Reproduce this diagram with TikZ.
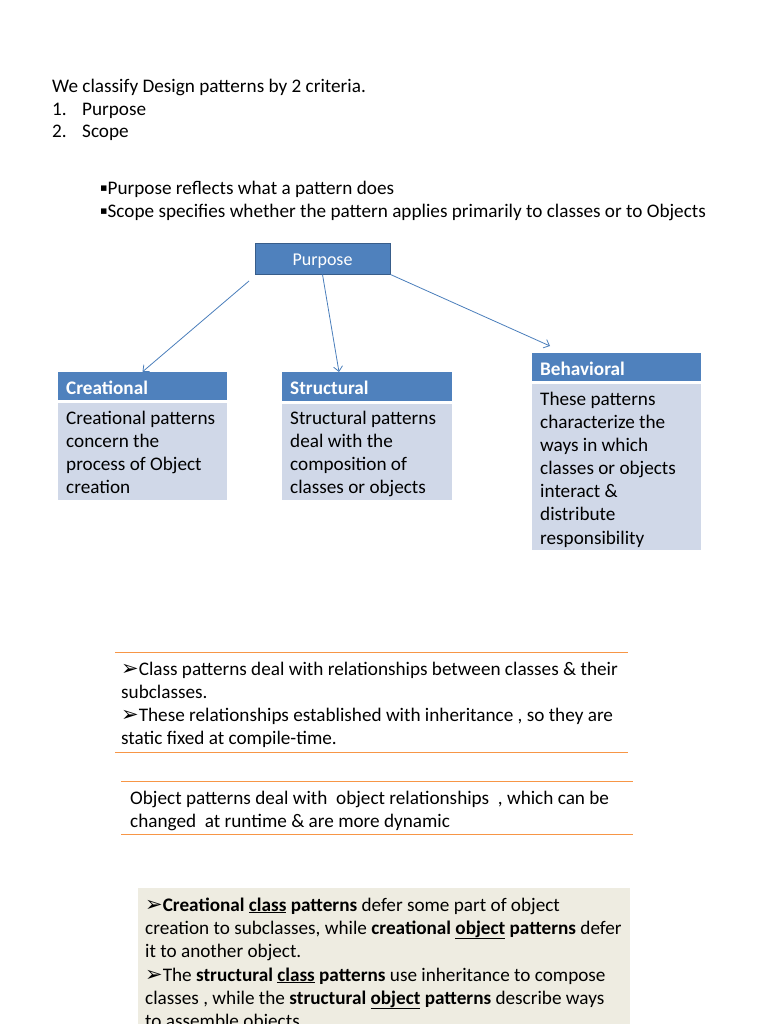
\documentclass[tikz,border=0pt]{standalone}
\usepackage{fontspec}
\setmainfont{Carlito}
\newfontfamily\symfont{DejaVu Sans}
\usetikzlibrary{arrows.meta}
\definecolor{hblue}{HTML}{4F81BD}
\definecolor{hborder}{HTML}{385D8A}
\definecolor{bodyblue}{HTML}{D0D8E8}
\definecolor{arrblue}{HTML}{4A7EBB}
\definecolor{orangeline}{HTML}{F79646}
\definecolor{beige}{HTML}{EEECE1}
\newcommand{\tri}{{\symfont\fontsize{21}{21}\selectfont ➢}}
\newcommand{\sq}{\raisebox{3pt}{\symfont\fontsize{11}{11}\selectfont ▪}}
\tikzset{
  txt/.style={anchor=base west, inner sep=0pt, font=\fontsize{19.2}{23}\selectfont},
  head/.style={fill=hblue, draw=none, inner sep=0pt},
  headtxt/.style={anchor=west, inner sep=0pt, text=white, font=\fontsize{19.2}{20}\selectfont\bfseries},
  bodybox/.style={fill=bodyblue, draw=none, inner sep=0pt},
  arr/.style={draw=arrblue, line width=0.8pt, -{Straight Barb[length=5pt,width=9pt]}},
  oline/.style={draw=orangeline, line width=1pt},
}
\begin{document}
\begin{tikzpicture}[x=1pt,y=-1pt]
\useasboundingbox (0,0) rectangle (768,1024);
\clip (0,0) rectangle (768,1024);
% intro
\node[txt] (t1) at (52,93) {We classify Design patterns by 2 criteria.};
\node[txt] (n1) at (52,116) {1.};
\node[txt] (p1) at (82,116) {Purpose};
\node[txt] (n2) at (52,138) {2.};
\node[txt] (p2) at (82,138) {Scope};
\node[txt] (b1) at (100,195) {\sq Purpose reflects what a pattern does};
\node[txt] (b2) at (100,218) {\sq Scope specifies whether the pattern applies primarily to classes or to Objects};
% purpose box
\node[fill=hblue, draw=hborder, line width=1pt, minimum width=135pt, minimum height=31pt, inner sep=0pt] (purpose) at (322.5,258.5) {};
\node[anchor=base, inner sep=0pt, text=white, font=\fontsize{18}{20}\selectfont] (purposetxt) at (322.5,265) {Purpose};
% creational
\node[head, minimum width=169pt, minimum height=28pt] (crehead) at (142.5,386) {};
\node[headtxt] (cretxt) at (66,387.5) {Creational};
\node[bodybox, minimum width=169pt, minimum height=97pt] (crebody) at (142.5,451.5) {};
\node[txt] (c1) at (66,424) {Creational patterns};
\node[txt] (c2) at (66,447) {concern the};
\node[txt] (c3) at (66,470) {process of Object};
\node[txt] (c4) at (66,493) {creation};
% structural
\node[head, minimum width=170pt, minimum height=29pt] (strhead) at (367,386.5) {};
\node[headtxt] (strtxt) at (290,388) {Structural};
\node[bodybox, minimum width=170pt, minimum height=96pt] (strbody) at (367,452) {};
\node[txt] (s1) at (290,424) {Structural patterns};
\node[txt] (s2) at (290,447) {deal with the};
\node[txt] (s3) at (290,470) {composition of};
\node[txt] (s4) at (290,493) {classes or objects};
% behavioral
\node[head, minimum width=169pt, minimum height=28pt] (behhead) at (616.5,367) {};
\node[headtxt] (behtxt) at (540,368.5) {Behavioral};
\node[bodybox, minimum width=169pt, minimum height=166pt] (behbody) at (616.5,467) {};
\node[txt] (h1) at (540,405) {These patterns};
\node[txt] (h2) at (540,428) {characterize the};
\node[txt] (h3) at (540,451) {ways in which};
\node[txt] (h4) at (540,474) {classes or objects};
\node[txt] (h5) at (540,497) {interact \&};
\node[txt] (h6) at (540,520) {distribute};
\node[txt] (h7) at (540,544) {responsibility};
% arrows
\coordinate (a1s) at (249,281);
\coordinate (a3e) at (550,346);
\coordinate (a2e) at (339,372);
\draw[arr] (a1s) -- (crehead.north);
\draw[arr] (purpose.south) -- (a2e);
\draw[arr] (purpose.south east) -- (a3e);
% class patterns block
\coordinate (o1a) at (115,652); \coordinate (o1b) at (628,652);
\coordinate (o2a) at (115,752); \coordinate (o2b) at (628,752);
\draw[oline] (o1a) -- (o1b);
\draw[oline] (o2a) -- (o2b);
\node[txt] (k1) at (121,675) {\tri Class patterns deal with relationships between classes \& their};
\node[txt] (k2) at (121,698) {subclasses.};
\node[txt] (k3) at (121,721) {\tri These relationships established with inheritance , so they are};
\node[txt] (k4) at (121,744) {static fixed at compile-time.};
% object patterns block
\coordinate (o3a) at (121,781); \coordinate (o3b) at (633,781);
\coordinate (o4a) at (121,834); \coordinate (o4b) at (633,834);
\draw[oline] (o3a) -- (o3b);
\draw[oline] (o4a) -- (o4b);
\node[txt] (j1) at (130,804) {Object patterns deal with\ \ object relationships\ \ , which can be};
\node[txt] (j2) at (130,827) {changed\ \ at runtime \& are more dynamic};
% beige block
\node[fill=beige, minimum width=492pt, minimum height=150pt, inner sep=0pt, anchor=north west] (beigebox) at (138,888) {};
\node[txt] (g1) at (145,911) {\tri\textbf{Creational \underline{class} patterns} defer some part of object};
\node[txt] (g2) at (145,934) {creation to subclasses, while \textbf{creational \underline{object} patterns} defer};
\node[txt] (g3) at (145,957) {it to another object.};
\node[txt] (g4) at (145,981) {\tri The \textbf{structural \underline{class} patterns} use inheritance to compose};
\node[txt] (g5) at (145,1004) {classes , while the \textbf{structural \underline{object} patterns} describe ways};
\node[txt] (g6) at (145,1027) {to assemble objects.};
\end{tikzpicture}
\end{document}
